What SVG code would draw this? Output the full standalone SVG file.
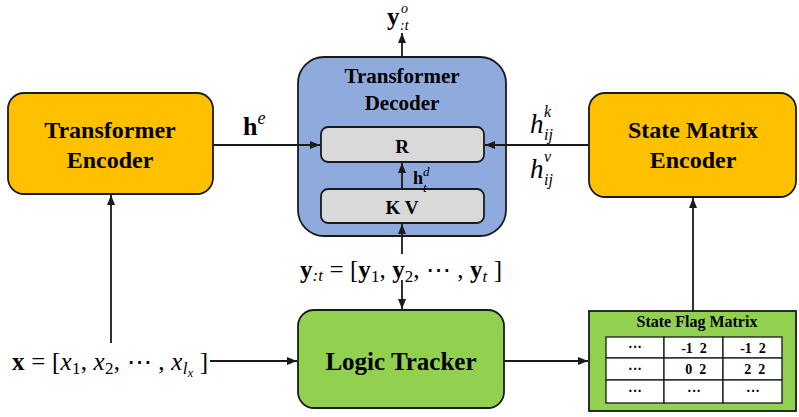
<svg xmlns="http://www.w3.org/2000/svg" width="799" height="417" viewBox="0 0 799 417">
<style>
.box{stroke:#1a1a1a;stroke-width:1.8}
.t{font-family:"Liberation Serif",serif;font-weight:bold;fill:#000;text-anchor:middle}
.m{font-family:"Liberation Serif",serif;fill:#000}
.c{stroke:#1a1a1a;stroke-width:1.8;fill:none}
.cell{fill:#fff;stroke:#1a1a1a;stroke-width:1.3}
</style>
<defs>
<marker id="ah" viewBox="0 0 10 10" refX="10" refY="5" markerWidth="10" markerHeight="10" markerUnits="userSpaceOnUse" orient="auto">
<path d="M0,1 L10,5 L0,9 z" fill="#1a1a1a"/>
</marker>
</defs>
<rect width="799" height="417" fill="#fff"/>

<g id="transformer-encoder">
<rect class="box" x="8" y="93" width="205" height="101" rx="16" fill="#FFC000"/>
<text class="t" x="110" y="138" font-size="24">Transformer</text>
<text class="t" x="110" y="168" font-size="24">Encoder</text>
</g>

<g id="transformer-decoder">
<rect class="box" x="298" y="57" width="208" height="179" rx="26" fill="#8FAADC"/>
<text class="t" x="402" y="83" font-size="21">Transformer</text>
<text class="t" x="402" y="110" font-size="21">Decoder</text>
</g>
<g id="r-box">
<rect class="box" x="321" y="127" width="163" height="35" rx="7" fill="#D9D9D9" stroke-width="1.4"/>
<text class="t" x="402" y="153" font-size="19">R</text>
</g>
<g id="kv-box">
<rect class="box" x="321" y="189" width="163" height="34" rx="7" fill="#D9D9D9" stroke-width="1.4"/>
<text class="t" x="402" y="214" font-size="19">K V</text>
</g>

<g id="state-matrix-encoder">
<rect class="box" x="589" y="93" width="207" height="104" rx="16" fill="#FFC000"/>
<text class="t" x="693" y="138" font-size="24">State Matrix</text>
<text class="t" x="693" y="168" font-size="24">Encoder</text>
</g>

<g id="logic-tracker">
<rect class="box" x="298" y="310" width="206" height="98" rx="16" fill="#92D050"/>
<text class="t" x="401" y="370" font-size="25">Logic Tracker</text>
</g>

<g id="state-flag-matrix">
<rect class="box" x="589" y="311" width="207" height="100" fill="#92D050"/>
<text class="t" x="697" y="327" font-size="16">State Flag Matrix</text>
<rect class="cell" x="606" y="337" width="58" height="21"/>
<rect class="cell" x="664" y="337" width="59" height="21"/>
<rect class="cell" x="723" y="337" width="59" height="21"/>
<rect class="cell" x="606" y="358" width="58" height="22"/>
<rect class="cell" x="664" y="358" width="59" height="22"/>
<rect class="cell" x="723" y="358" width="59" height="22"/>
<rect class="cell" x="606" y="380" width="58" height="23"/>
<rect class="cell" x="664" y="380" width="59" height="23"/>
<rect class="cell" x="723" y="380" width="59" height="23"/>
<g class="t" font-size="14">
<text x="635" y="352">···</text>
<text x="694" y="353" xml:space="preserve">-1  2</text>
<text x="753" y="353" xml:space="preserve">-1  2</text>
<text x="635" y="374">···</text>
<text x="694" y="374" xml:space="preserve"> 0  2</text>
<text x="753" y="374" xml:space="preserve"> 2  2</text>
<text x="635" y="396">···</text>
<text x="694" y="396">···</text>
<text x="753" y="396">···</text>
</g>
</g>

<g id="connectors">
<line class="c" x1="213" y1="145" x2="320" y2="145" marker-end="url(#ah)"/>
<line class="c" x1="589" y1="145" x2="485" y2="145" marker-end="url(#ah)"/>
<line class="c" x1="402" y1="189" x2="402" y2="163" marker-end="url(#ah)"/>
<line class="c" x1="402" y1="57" x2="402" y2="33" marker-end="url(#ah)"/>
<line class="c" x1="402" y1="254" x2="402" y2="224" marker-end="url(#ah)"/>
<line class="c" x1="402" y1="280" x2="402" y2="309" marker-end="url(#ah)"/>
<line class="c" x1="111" y1="343" x2="111" y2="195" marker-end="url(#ah)"/>
<line class="c" x1="210" y1="361" x2="297" y2="361" marker-end="url(#ah)"/>
<line class="c" x1="504" y1="361" x2="588" y2="361" marker-end="url(#ah)"/>
<line class="c" x1="693" y1="311" x2="693" y2="198" marker-end="url(#ah)"/>
</g>

<g id="labels">
<text class="m" x="243" y="135" font-size="26"><tspan font-weight="bold">h</tspan><tspan font-style="italic" font-size="18" dy="-11">e</tspan></text>
<text class="m" x="530" y="133" font-size="27" font-style="italic">h</text>
<text class="m" x="544" y="117" font-size="16" font-style="italic">k</text>
<text class="m" x="544" y="140" font-size="16" font-style="italic">ij</text>
<text class="m" x="530" y="178" font-size="27" font-style="italic">h</text>
<text class="m" x="544" y="162" font-size="16" font-style="italic">v</text>
<text class="m" x="544" y="185" font-size="16" font-style="italic">ij</text>
<text class="m" x="413" y="184" font-size="18" font-weight="bold">h</text>
<text class="m" x="423" y="176" font-size="13" font-style="italic">d</text>
<text class="m" x="423" y="192" font-size="13" font-style="italic">t</text>
<text class="m" x="387" y="25" font-size="25" font-weight="bold">y</text>
<text class="m" x="401" y="13" font-size="14" font-style="italic">o</text>
<text class="m" x="400" y="30" font-size="14" font-style="italic">:t</text>
<text class="m" x="300" y="278" font-size="25" textLength="202" lengthAdjust="spacing"><tspan font-weight="bold">y</tspan><tspan font-style="italic" font-size="17" dy="3">:t</tspan><tspan dy="-3"> = [</tspan><tspan font-weight="bold">y</tspan><tspan font-size="17" dy="4">1</tspan><tspan dy="-4">, </tspan><tspan font-weight="bold">y</tspan><tspan font-size="17" dy="4">2</tspan><tspan dy="-4">, ⋯ , </tspan><tspan font-weight="bold">y</tspan><tspan font-style="italic" font-size="17" dy="4">t</tspan><tspan dy="-4"> ]</tspan></text>
<text class="m" x="12" y="370" font-size="25" textLength="196" lengthAdjust="spacing"><tspan font-weight="bold">x</tspan><tspan> = [</tspan><tspan font-style="italic">x</tspan><tspan font-size="17" dy="4">1</tspan><tspan dy="-4">, </tspan><tspan font-style="italic">x</tspan><tspan font-size="17" dy="4">2</tspan><tspan dy="-4">, ⋯ , </tspan><tspan font-style="italic">x</tspan><tspan font-style="italic" font-size="17" dy="4">l</tspan><tspan font-style="italic" font-size="12" dy="3">x</tspan><tspan dy="-7"> ]</tspan></text>
</g>
</svg>
